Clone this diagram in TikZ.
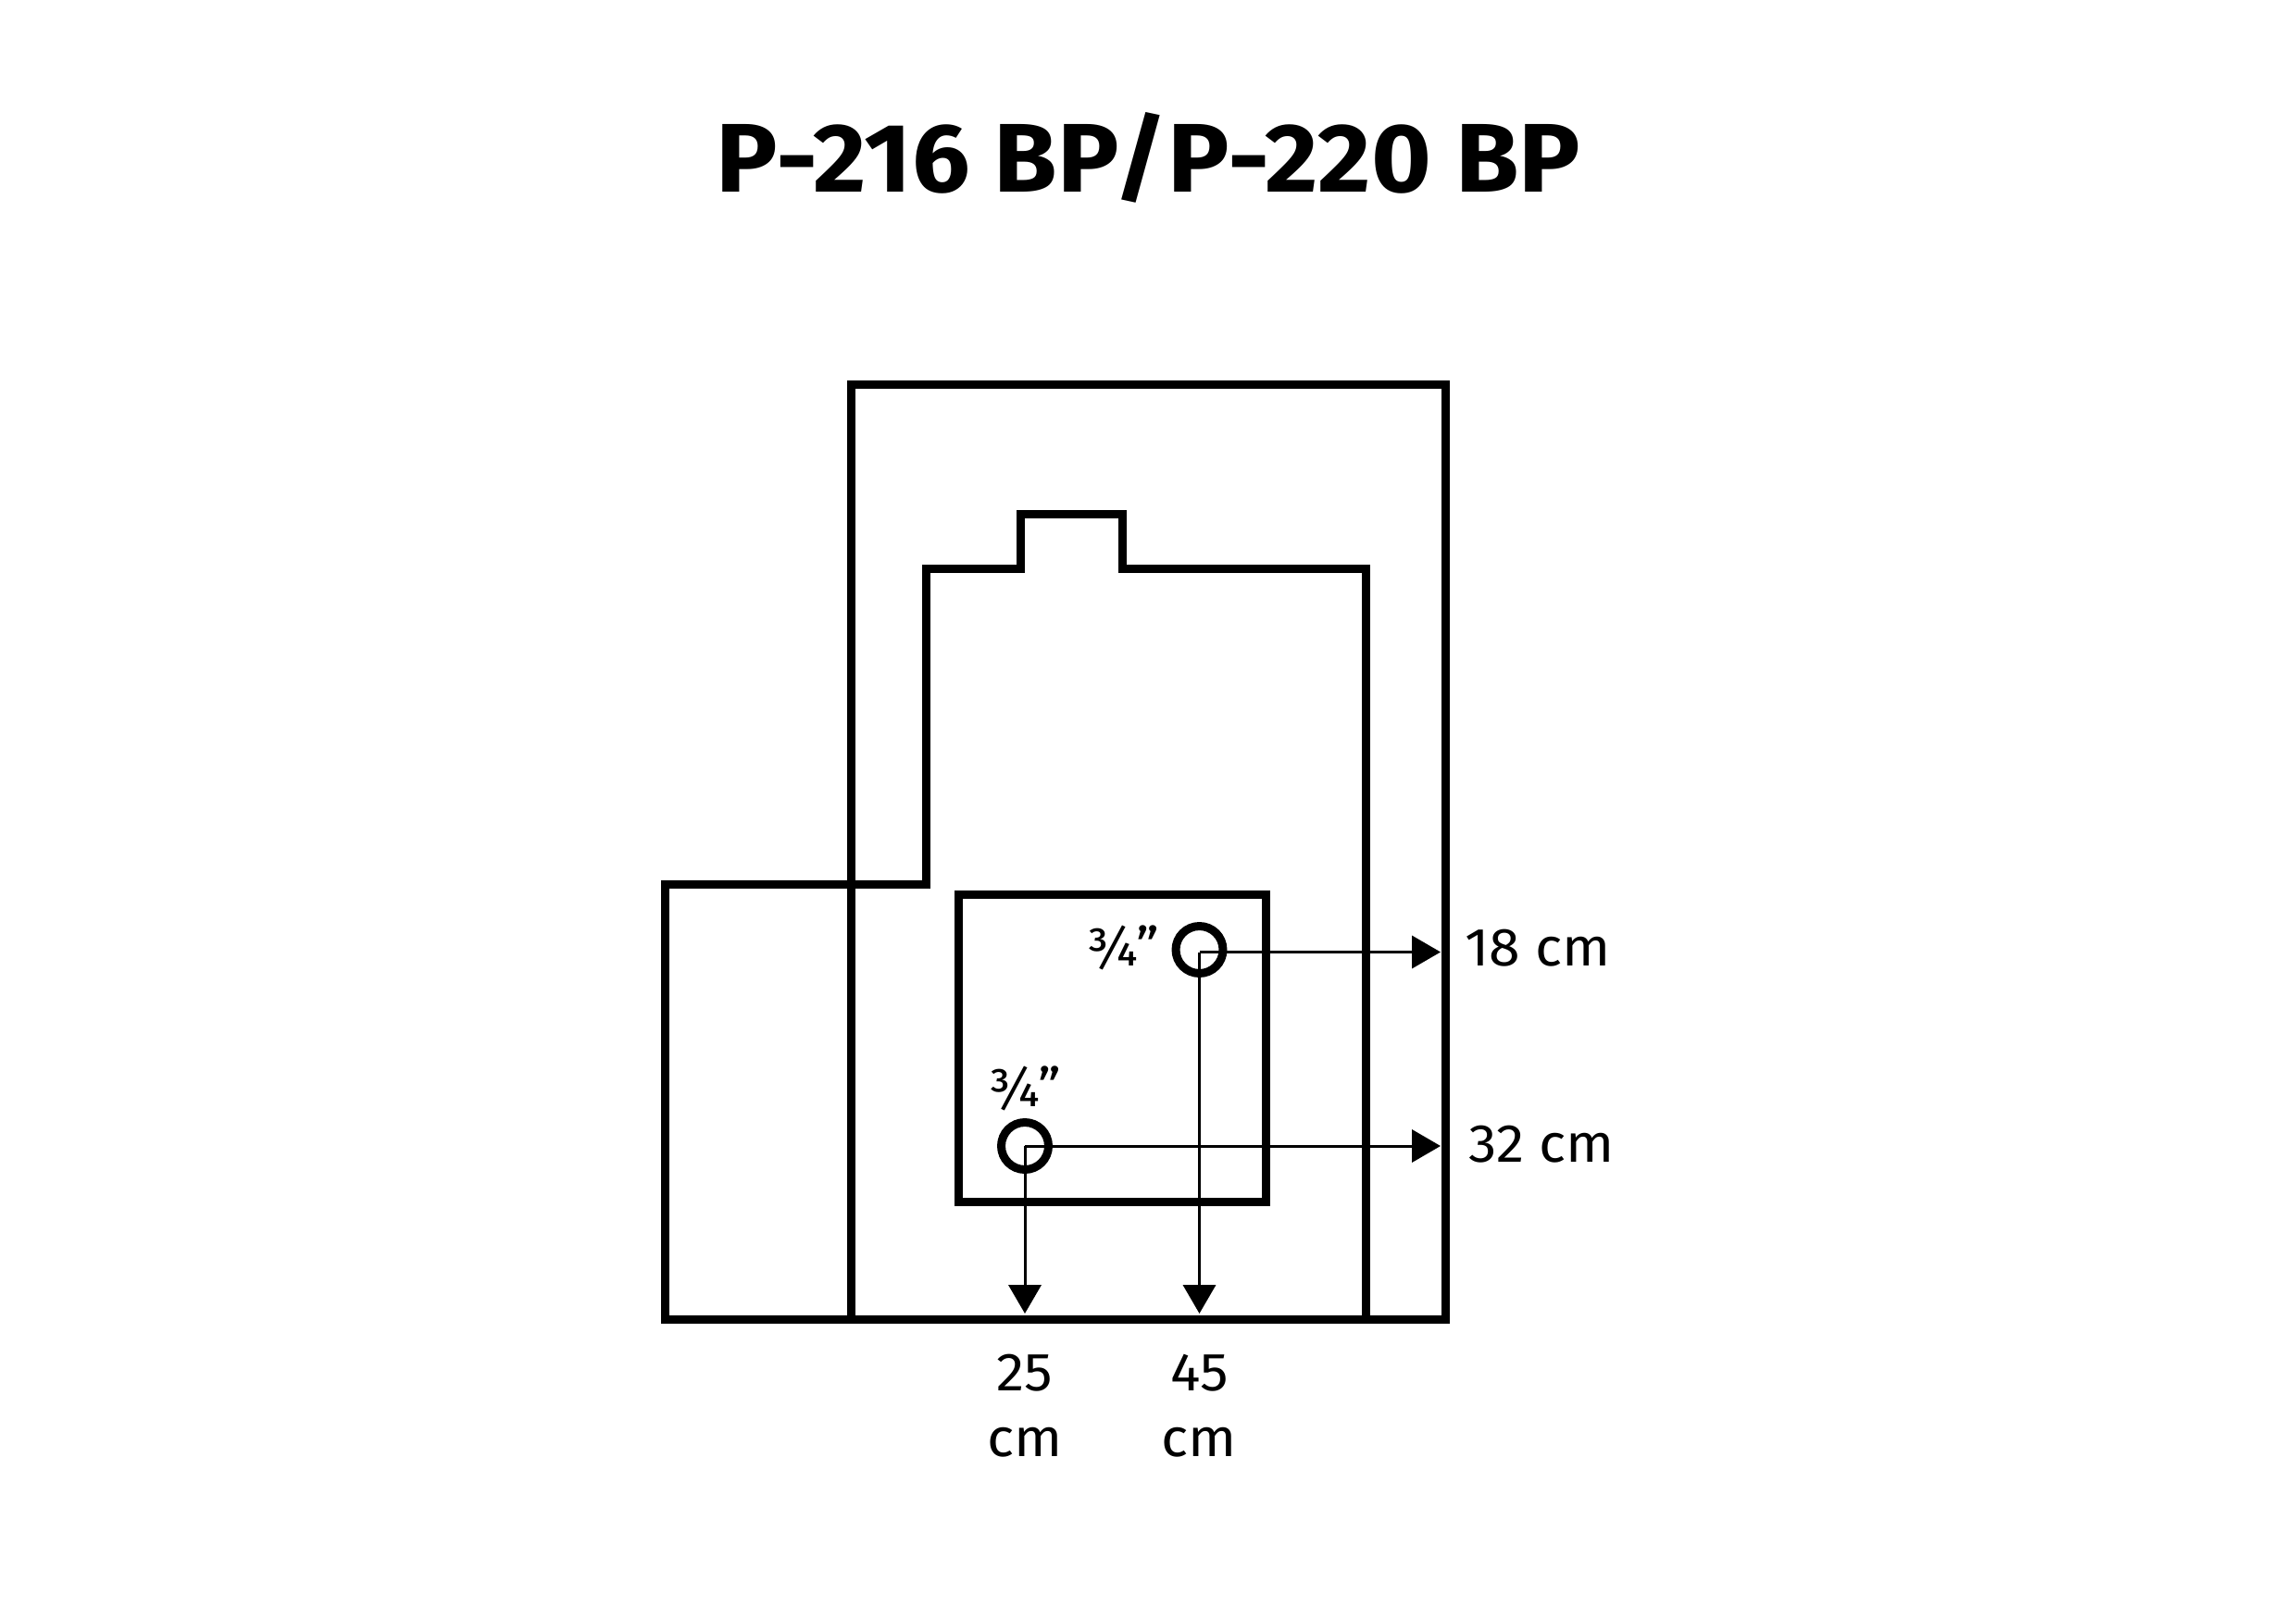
\documentclass[tikz,border=0pt]{standalone}
\usepackage{fontspec}
\setmainfont[FakeStretch=1.05]{Fira Sans}
\newfontfamily\titlefont[FakeStretch=1.053]{Fira Sans}
\usetikzlibrary{arrows.meta}
\tikzset{
	heavy/.style={line width=2.56pt, miter limit=10},
	thinarrow/.style={line width=0.85pt, -{Triangle[length=8.8pt, width=10pt]}},
	holering/.style={draw, circle, line width=2.56pt, minimum size=14.5pt, inner sep=0pt, outer sep=0pt},
	dimlabel/.style={anchor=base, inner sep=0pt, font=\fontsize{16.5}{20.2}\selectfont, align=center},
	titlelabel/.style={anchor=base, inner sep=0pt, font=\fontsize{30}{36}\selectfont\titlefont\bfseries}
}
\begin{document}
\begin{tikzpicture}
	\useasboundingbox (0,0) rectangle (24.8,17.48);
	% Title
	\node[titlelabel] (title) at (12.405,15.40) {P-216 BP/P-220 BP};
	% Housing
	\draw[heavy](9.19,3.23) rectangle (15.61,13.32);
	\draw[heavy](7.18,3.23) -- (7.18,7.93) -- (10.00,7.93) -- (10.00,11.34) -- (11.025,11.34) -- (11.025,11.93) -- (12.125,11.93) -- (12.125,11.34) -- (14.755,11.34) -- (14.755,3.23) -- cycle;
	\draw[heavy](10.355,4.50) rectangle (13.67,7.82);
	% Holes
	\node[holering] (holeA) at (12.955,7.22) {};
	\node[holering] (holeB) at (11.07,5.10) {};
	\coordinate (pinA) at (12.955,7.195);
	\node[dimlabel] (sizeA) at (12.13,7.05) {¾"};
	\node[dimlabel] (sizeB) at (11.07,5.53) {¾"};
	% Dimensions
	\coordinate (rightA) at (15.56,7.195);
	\coordinate (rightB) at (15.56,5.10);
	\coordinate (downA) at (12.955,3.29);
	\coordinate (downB) at (11.07,3.29);
	\draw[thinarrow] (pinA) -- (rightA);
	\draw[thinarrow] (holeB.center) -- (rightB);
	\draw[thinarrow] (pinA) -- (downA);
	\draw[thinarrow] (holeB.center) -- (downB);
	\node[dimlabel] (distA) at (16.61,7.05) {18 cm};
	\node[dimlabel] (distB) at (16.655,4.93) {32 cm};
	\node[dimlabel] (depthB) at (11.07,1.75) {25\\cm};
	\node[dimlabel] (depthA) at (12.955,1.75) {45\\cm};
\end{tikzpicture}
\end{document}
